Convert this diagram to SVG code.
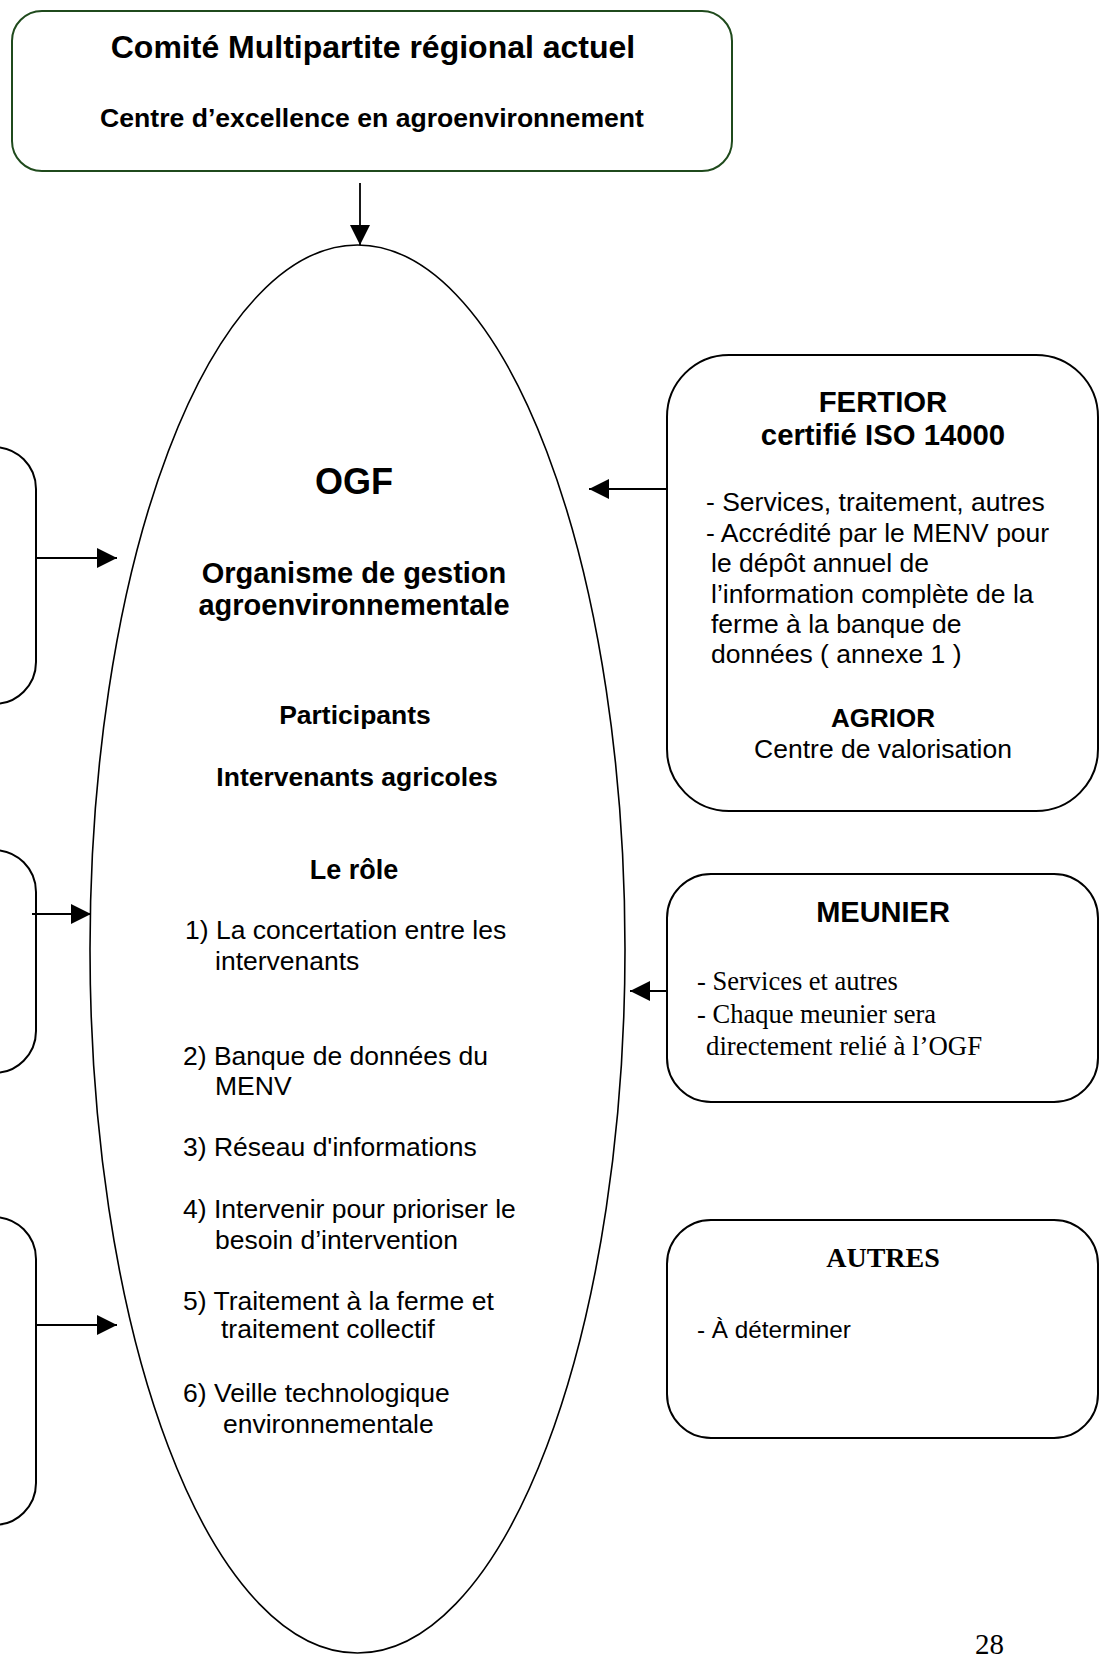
<svg xmlns="http://www.w3.org/2000/svg" width="1105" height="1656" viewBox="0 0 1105 1656">
<style>
.box{fill:#fff;stroke:#000;stroke-width:2}
.topbox{fill:#fff;stroke:#1f4a1c;stroke-width:2}
.ell{fill:#fff;stroke:#000;stroke-width:1.6}
.conn{stroke:#000;stroke-width:1.8;fill:none}
.sb{font-family:"Liberation Sans",Arial,sans-serif;font-weight:bold;fill:#000}
.s{font-family:"Liberation Sans",Arial,sans-serif;fill:#000}
.t{font-family:"Liberation Serif","Times New Roman",serif;fill:#000}
.tb{font-family:"Liberation Serif","Times New Roman",serif;font-weight:bold;fill:#000}
.c{text-anchor:middle}
</style>
<defs>
<marker id="ah" viewBox="0 0 20 20" markerWidth="20" markerHeight="20" markerUnits="userSpaceOnUse" refX="20" refY="10" orient="auto">
<path d="M0,0 L20,10 L0,20 Z" fill="#000"/>
</marker>
</defs>
<rect width="1105" height="1656" fill="#fff"/>

<g id="node-top">
<rect class="topbox" x="12" y="11" width="720" height="160" rx="30" ry="30"/>
<text class="sb c" x="373" y="58" font-size="32">Comité Multipartite régional actuel</text>
<text class="sb c" x="372" y="127" font-size="26.6">Centre d’excellence en agroenvironnement</text>
</g>

<g id="node-ogf">
<ellipse class="ell" cx="357.5" cy="949" rx="267.5" ry="704"/>
<text class="sb c" x="354" y="494" font-size="36">OGF</text>
<text class="sb c" x="354" y="583" font-size="29">Organisme de gestion</text>
<text class="sb c" x="354" y="615" font-size="29">agroenvironnementale</text>
<text class="sb c" x="355" y="724" font-size="26.5">Participants</text>
<text class="sb c" x="357" y="786" font-size="26.5">Intervenants agricoles</text>
<text class="sb c" x="354" y="879" font-size="27">Le rôle</text>
<g class="s" font-size="26.5">
<text x="185" y="939">1) La concertation entre les</text>
<text x="215" y="970">intervenants</text>
<text x="183" y="1065">2) Banque de données du</text>
<text x="215" y="1095">MENV</text>
<text x="183" y="1156">3) Réseau d'informations</text>
<text x="183" y="1218">4) Intervenir pour prioriser le</text>
<text x="215" y="1249">besoin d’intervention</text>
<text x="183" y="1310">5) Traitement à la ferme et</text>
<text x="221" y="1338">traitement collectif</text>
<text x="183" y="1402">6) Veille technologique</text>
<text x="223" y="1433">environnementale</text>
</g>
</g>

<g id="node-left1"><rect class="box" x="-264" y="447" width="300" height="257" rx="42" ry="42"/></g>
<g id="node-left2"><rect class="box" x="-264" y="850" width="300" height="223" rx="42" ry="42"/></g>
<g id="node-left3"><rect class="box" x="-264" y="1217" width="300" height="308" rx="42" ry="42"/></g>

<g id="node-fertior">
<rect class="box" x="667" y="355" width="431" height="456" rx="62" ry="62"/>
<text class="sb c" x="883" y="412" font-size="29.3">FERTIOR</text>
<text class="sb c" x="883" y="445" font-size="29.3">certifié ISO 14000</text>
<g class="s" font-size="26.5">
<text x="706" y="511">- Services, traitement, autres</text>
<text x="706" y="542">- Accrédité par le MENV pour</text>
<text x="711" y="572">le dépôt annuel de</text>
<text x="711" y="603">l’information complète de la</text>
<text x="711" y="633">ferme à la banque de</text>
<text x="711" y="663">données ( annexe 1 )</text>
</g>
<text class="sb c" x="883" y="727" font-size="26">AGRIOR</text>
<text class="s c" x="883" y="758" font-size="26.5">Centre de valorisation</text>
</g>

<g id="node-meunier">
<rect class="box" x="667" y="874" width="431" height="228" rx="44" ry="44"/>
<text class="sb c" x="883" y="922" font-size="29">MEUNIER</text>
<g class="t" font-size="26.5">
<text x="697" y="990">- Services et autres</text>
<text x="697" y="1023">- Chaque meunier sera</text>
<text x="706" y="1055" font-size="26.8">directement relié à l’OGF</text>
</g>
</g>

<g id="node-autres">
<rect class="box" x="667" y="1220" width="431" height="218" rx="44" ry="44"/>
<text class="tb c" x="883" y="1267" font-size="28">AUTRES</text>
<text class="s" x="697" y="1338" font-size="24.3">- À déterminer</text>
</g>

<g id="connectors">
<line class="conn" x1="360" y1="183" x2="360" y2="245" marker-end="url(#ah)"/>
<line class="conn" x1="36" y1="558" x2="117" y2="558" marker-end="url(#ah)"/>
<line class="conn" x1="32" y1="914" x2="91" y2="914" marker-end="url(#ah)"/>
<line class="conn" x1="36" y1="1325" x2="117" y2="1325" marker-end="url(#ah)"/>
<line class="conn" x1="667" y1="489" x2="589" y2="489" marker-end="url(#ah)"/>
<line class="conn" x1="667" y1="991" x2="630" y2="991" marker-end="url(#ah)"/>
</g>

<text class="t" x="975" y="1654" font-size="29">28</text>
</svg>
